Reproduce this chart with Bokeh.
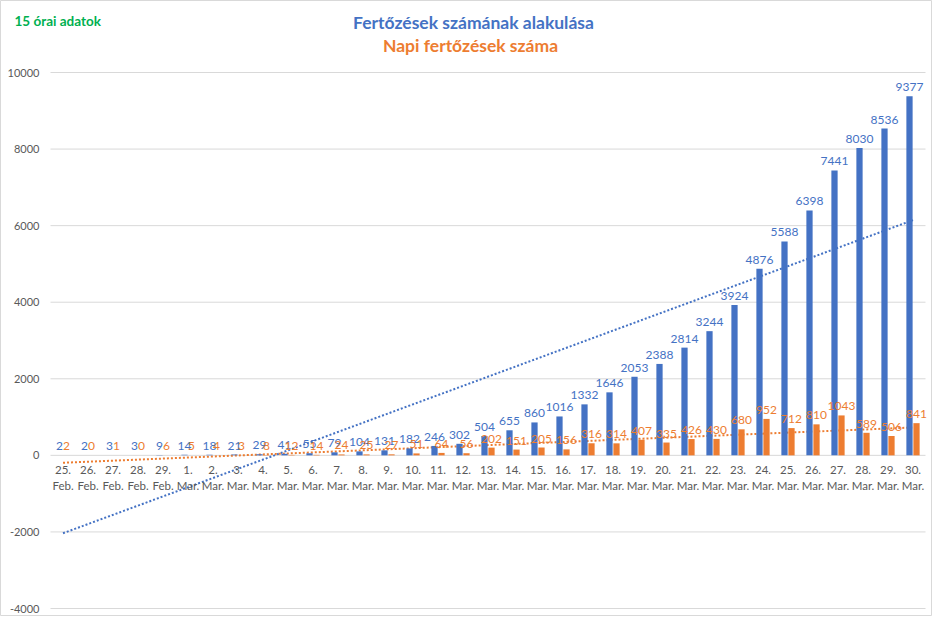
import numpy as np
from bokeh.plotting import figure
from bokeh.models import Range1d, ColumnDataSource, Label
from bokeh.core.properties import value
from bokeh.embed import file_html
from bokeh.resources import INLINE

# ---- data ----
days = ["25.", "26.", "27.", "28.", "29.",
        "1.", "2.", "3.", "4.", "5.", "6.", "7.", "8.", "9.", "10.",
        "11.", "12.", "13.", "14.", "15.", "16.", "17.", "18.", "19.", "20.",
        "21.", "22.", "23.", "24.", "25.", "26.", "27.", "28.", "29.", "30."]
months = ["Feb."] * 5 + ["Mar."] * 30
cumulative = [2, 2, 3, 3, 9, 14, 18, 21, 29, 41, 55, 79, 104, 131, 182,
              246, 302, 504, 655, 860, 1016, 1332, 1646, 2053, 2388,
              2814, 3244, 3924, 4876, 5588, 6398, 7441, 8030, 8536, 9377]
daily = [2, 0, 1, 0, 6, 5, 4, 3, 8, 12, 14, 24, 25, 27, 51,
         64, 56, 202, 151, 205, 156, 316, 314, 407, 335,
         426, 430, 680, 952, 712, 810, 1043, 589, 506, 841]
y_ticks = [-4000, -2000, 0, 2000, 4000, 6000, 8000, 10000]

title_main = "Fertőzések számának alakulása"
title_sub = "Napi fertőzések száma"
note = "15 órai adatok"

BLUE = "#4472C4"
ORANGE = "#ED7D31"
GREEN = "#00B050"
GRAY = "#595959"
GRID = "#D9D9D9"
FONT = "Lato"

n = len(days)
idx = np.arange(n)
off = 0.14
bw = 0.25

src = ColumnDataSource(dict(
    x=idx,
    xb=idx - off,
    xo=idx + off,
    cum=cumulative,
    daily=daily,
    cum_txt=[str(v) for v in cumulative],
    daily_txt=[str(v) for v in daily],
    day=days,
    month=months,
    zero=[0] * n,
))

# linear trendlines (least squares, like Excel)
kb = np.polyfit(idx, cumulative, 1)
ko = np.polyfit(idx, daily, 1)
tx = [idx[0], idx[-1]]
tb = [np.polyval(kb, t) for t in tx]
to = [np.polyval(ko, t) for t in tx]

# the frame spans the whole canvas; plot area = 875 x 536 px starting at (50, 72)
W, H = 932, 616
sy = 536 / 14000.0          # px per unit (y)
sx = 875 / n                # px per category
y_top = 10000 + 72 / sy
y_bot = -4000 - (H - 608) / sy
x_left = -0.5 - 50 / sx
x_right = n - 0.5 + (W - 925) / sx

p = figure(width=W, height=H, output_backend="svg", toolbar_location=None,
           x_range=Range1d(x_left, x_right), y_range=Range1d(y_bot, y_top),
           x_axis_location=None, y_axis_location=None,
           min_border_left=0, min_border_right=0, min_border_top=0,
           min_border_bottom=0)
p.outline_line_color = "#D9D9D9"
p.outline_line_width = 1
p.background_fill_color = "white"
p.border_fill_color = "white"
p.grid.visible = False

# horizontal gridlines + value axis labels
gsrc = ColumnDataSource(dict(
    y=y_ticks,
    x0=[-0.5] * len(y_ticks),
    x1=[n - 0.5] * len(y_ticks),
    txt=[str(t) for t in y_ticks],
))
p.segment(x0="x0", y0="y", x1="x1", y1="y", source=gsrc,
          line_color=GRID, line_width=1)
p.text(x="x0", y="y", text="txt", source=gsrc, text_align="right",
       text_baseline="middle", x_offset=-11, text_font=value(FONT),
       text_font_size="11px", text_color=GRAY)

# trendlines (behind bars)
p.line(tx, tb, line_color=BLUE, line_width=2, line_dash="2 2")
p.line(tx, to, line_color=ORANGE, line_width=2, line_dash="2 2")

# bars
p.vbar(x="xb", top="cum", bottom=0, width=bw, source=src,
       fill_color=BLUE, line_color=None)
p.vbar(x="xo", top="daily", bottom=0, width=bw, source=src,
       fill_color=ORANGE, line_color=None)

# value labels
p.text(x="xb", y="cum", text="cum_txt", source=src, text_align="center",
       text_baseline="bottom", y_offset=-5, text_font=value(FONT),
       text_font_size="12px", text_color=BLUE)
p.text(x="xo", y="daily", text="daily_txt", source=src, text_align="center",
       text_baseline="bottom", y_offset=-5, text_font=value(FONT),
       text_font_size="12px", text_color=ORANGE)

# category labels under the zero line
p.text(x="x", y="zero", text="day", source=src, text_align="center",
       text_baseline="middle", y_offset=15, text_font=value(FONT),
       text_font_size="11.5px", text_color=GRAY)
p.text(x="x", y="zero", text="month", source=src, text_align="center",
       text_baseline="middle", y_offset=30, text_font=value(FONT),
       text_font_size="11.5px", text_color=GRAY)

# titles
p.add_layout(Label(x=-0.5 + (473 - 50) / sx, y=y_top - 22 / sy, text=title_main,
                   text_align="center", text_baseline="middle", text_font=FONT,
                   text_font_style="bold", text_font_size="17.5px", text_color=BLUE))
p.add_layout(Label(x=-0.5 + (470 - 50) / sx, y=y_top - 45 / sy, text=title_sub,
                   text_align="center", text_baseline="middle", text_font=FONT,
                   text_font_style="bold", text_font_size="17.5px", text_color=ORANGE))
p.add_layout(Label(x=-0.5 + (14 - 50) / sx, y=y_top - 20 / sy, text=note,
                   text_align="left", text_baseline="middle", text_font=FONT,
                   text_font_style="bold", text_font_size="13.5px", text_color=GREEN))

open("out.html", "w").write(file_html(p, INLINE))
